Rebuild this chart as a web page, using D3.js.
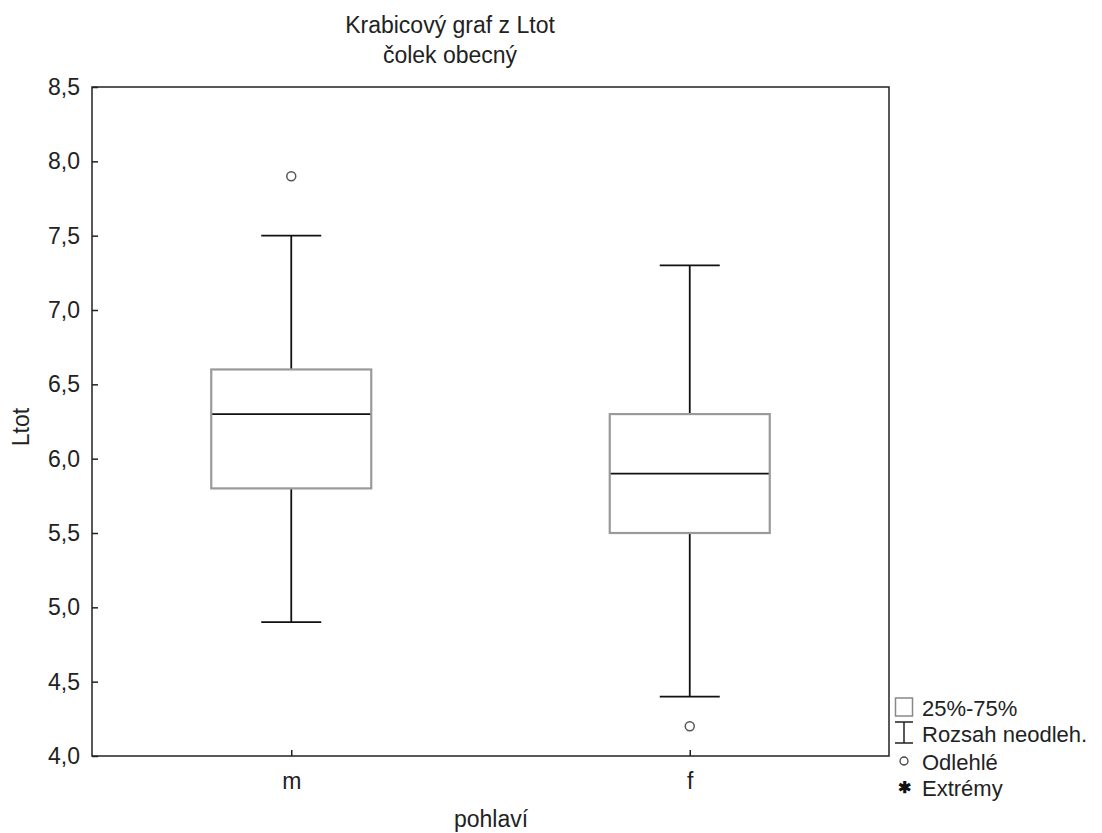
<!DOCTYPE html>
<html>
<head>
<meta charset="utf-8">
<script src="https://cdn.jsdelivr.net/npm/d3@7"></script>
<style>
  body { margin: 0; background: #fff; }
  svg { font-family: 'Liberation Sans', Arial, sans-serif; }
</style>
</head>
<body>
<div id="app"></div>
<script>
// data
const groups = ['m', 'f'];
const lowWhisker = [4.9, 4.4];
const q1 = [5.8, 5.5];
const median = [6.3, 5.9];
const q3 = [6.6, 6.3];
const highWhisker = [7.5, 7.3];
const outliers = [[7.9], [4.2]];
const yTicks = [4.0, 4.5, 5.0, 5.5, 6.0, 6.5, 7.0, 7.5, 8.0, 8.5];
const legendItems = ['25%-75%', 'Rozsah neodleh.', 'Odlehlé', 'Extrémy'];

const width = 1102;
const height = 833;
const margin = { top: 87, right: 213, bottom: 77, left: 92 };
const boxWidth = 160;
const capWidth = 60;
const fontSize = 23;

const svg = d3.select('#app').append('svg')
  .attr('width', width)
  .attr('height', height);

const x = d3.scalePoint()
  .domain(groups)
  .range([margin.left, width - margin.right])
  .padding(0.5);

const y = d3.scaleLinear()
  .domain([4, 8.5])
  .range([height - margin.bottom, margin.top]);

const fmt = d => d3.format('.1f')(d).replace('.', ',');

// frame
svg.append('rect')
  .attr('x', margin.left)
  .attr('y', margin.top)
  .attr('width', width - margin.left - margin.right)
  .attr('height', height - margin.top - margin.bottom)
  .attr('fill', 'none')
  .attr('stroke', '#222')
  .attr('stroke-width', 1.5);

// y axis, ticks pointing inside
const yAxis = svg.append('g')
  .attr('transform', `translate(${margin.left},0)`)
  .call(d3.axisLeft(y).tickValues(yTicks).tickFormat(fmt).tickSizeInner(-6).tickSizeOuter(0).tickPadding(12));
yAxis.select('.domain').remove();
yAxis.selectAll('line').attr('stroke', '#222').attr('stroke-width', 1.5);
yAxis.selectAll('text').attr('font-size', fontSize).attr('fill', '#222').attr('font-family', null);

const xAxis = svg.append('g')
  .attr('transform', `translate(0,${height - margin.bottom})`)
  .call(d3.axisBottom(x).tickSizeInner(-6).tickSizeOuter(0).tickPadding(17));
xAxis.select('.domain').remove();
xAxis.selectAll('line').attr('stroke', '#222').attr('stroke-width', 1.5);
xAxis.selectAll('text').attr('font-size', fontSize).attr('fill', '#222');
svg.selectAll('.tick text').attr('font-family', null);
svg.selectAll('g').attr('font-family', null);

// boxes
const g = svg.append('g');
groups.forEach((grp, i) => {
  const cx = x(grp);
  // whiskers
  g.append('line')
    .attr('x1', cx).attr('x2', cx)
    .attr('y1', y(q3[i])).attr('y2', y(highWhisker[i]))
    .attr('stroke', '#111').attr('stroke-width', 1.8);
  g.append('line')
    .attr('x1', cx).attr('x2', cx)
    .attr('y1', y(q1[i])).attr('y2', y(lowWhisker[i]))
    .attr('stroke', '#111').attr('stroke-width', 1.8);
  [highWhisker[i], lowWhisker[i]].forEach(v => {
    g.append('line')
      .attr('x1', cx - capWidth / 2).attr('x2', cx + capWidth / 2)
      .attr('y1', y(v)).attr('y2', y(v))
      .attr('stroke', '#111').attr('stroke-width', 1.8);
  });
  // box
  g.append('rect')
    .attr('x', cx - boxWidth / 2)
    .attr('y', y(q3[i]))
    .attr('width', boxWidth)
    .attr('height', y(q1[i]) - y(q3[i]))
    .attr('fill', '#fff')
    .attr('stroke', '#9a9a9a')
    .attr('stroke-width', 2.2);
  g.append('line')
    .attr('x1', cx - boxWidth / 2 + 1).attr('x2', cx + boxWidth / 2 - 1)
    .attr('y1', y(median[i])).attr('y2', y(median[i]))
    .attr('stroke', '#111').attr('stroke-width', 1.8);
  // outliers
  outliers[i].forEach(v => {
    g.append('circle')
      .attr('cx', cx).attr('cy', y(v)).attr('r', 4.5)
      .attr('fill', 'none').attr('stroke', '#555').attr('stroke-width', 1.5);
  });
});

// titles
svg.append('text')
  .attr('x', 450).attr('y', 33)
  .attr('text-anchor', 'middle').attr('font-size', fontSize).attr('fill', '#222')
  .text('Krabicový graf z Ltot');
svg.append('text')
  .attr('x', 450).attr('y', 63)
  .attr('text-anchor', 'middle').attr('font-size', fontSize).attr('fill', '#222')
  .text('čolek obecný');

svg.append('text')
  .attr('transform', 'translate(29,427) rotate(-90)')
  .attr('text-anchor', 'middle').attr('font-size', fontSize).attr('fill', '#222')
  .text('Ltot');

svg.append('text')
  .attr('x', 491).attr('y', 827)
  .attr('text-anchor', 'middle').attr('font-size', fontSize).attr('fill', '#222')
  .text('pohlaví');

// legend
const legend = svg.append('g').attr('transform', 'translate(904,0)');
const rowY = [707, 733, 761, 787];
legendItems.forEach((label, i) => {
  legend.append('text')
    .attr('x', 18).attr('y', rowY[i] + 9)
    .attr('font-size', 22).attr('fill', '#222')
    .text(label);
});
legend.append('rect')
  .attr('x', -8.5).attr('y', rowY[0] - 9).attr('width', 17).attr('height', 18)
  .attr('fill', '#fff').attr('stroke', '#888').attr('stroke-width', 1.5);
legend.append('path')
  .attr('d', `M-9,${rowY[1] - 11}H9M0,${rowY[1] - 11}V${rowY[1] + 10}M-9,${rowY[1] + 10}H9`)
  .attr('fill', 'none').attr('stroke', '#222').attr('stroke-width', 1.5);
legend.append('circle')
  .attr('cx', 0).attr('cy', rowY[2]).attr('r', 4)
  .attr('fill', 'none').attr('stroke', '#444').attr('stroke-width', 1.3);
legend.append('text')
  .attr('x', 0).attr('y', rowY[3] + 6)
  .attr('text-anchor', 'middle').attr('font-size', 16).attr('font-weight', 'bold').attr('fill', '#111')
  .text('✱');
</script>
</body>
</html>
